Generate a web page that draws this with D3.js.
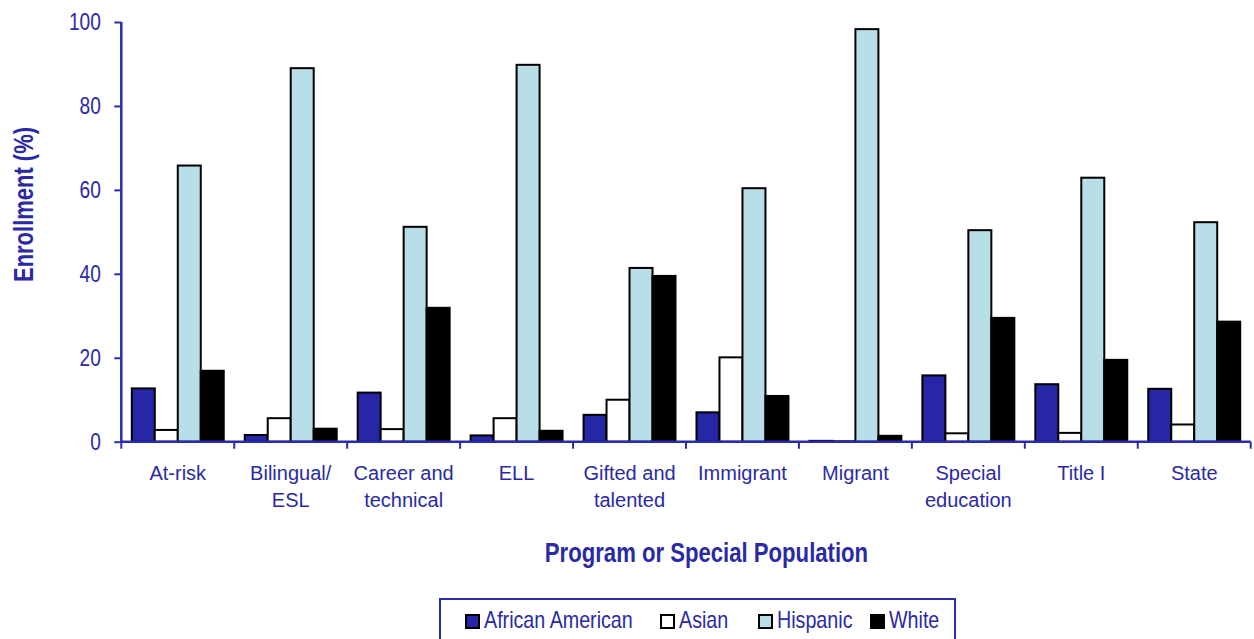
<!DOCTYPE html>
<html>
<head>
<meta charset="utf-8">
<script src="https://cdn.jsdelivr.net/npm/d3@7"></script>
<style>
  html, body { margin: 0; padding: 0; background: #fff; }
  svg text { font-family: "Liberation Sans", Arial, sans-serif; }
</style>
</head>
<body>
<svg id="chart" width="1254" height="639"></svg>
<script>
// Enrollment by program or special population, percent of students in each group
const categories = [
  "At-risk", "Bilingual/\nESL", "Career and\ntechnical", "ELL", "Gifted and\ntalented",
  "Immigrant", "Migrant", "Special\neducation", "Title I", "State"
];
const seriesNames = ["African American", "Asian", "Hispanic", "White"];
const africanAmerican = [12.7, 1.6, 11.7, 1.5, 6.4, 7.0, 0.2, 15.8, 13.7, 12.6];
const asian           = [2.8, 5.6, 3.0, 5.6, 10.0, 20.1, 0.1, 2.0, 2.1, 4.1];
const hispanic        = [65.8, 89.0, 51.2, 89.8, 41.4, 60.4, 98.3, 50.4, 62.9, 52.3];
const white           = [16.9, 3.1, 31.9, 2.6, 39.5, 10.9, 1.4, 29.5, 19.5, 28.6];
const yTicks = [0, 20, 40, 60, 80, 100];

const seriesValues = [africanAmerican, asian, hispanic, white];
const fills = ["#2626a6", "#ffffff", "#b8dee7", "#000000"];
const axisBlue = "#2b2bb0";
const textBlue = "#2a2aa6";

// Narrow the glyphs of a text selection horizontally (narrow sans look)
function condense(sel, ratio) {
  sel.each(function () {
    const w = this.getComputedTextLength();
    d3.select(this).attr("textLength", w * ratio).attr("lengthAdjust", "spacingAndGlyphs");
  });
}

const svg = d3.select("#chart");
const plot = { left: 121.3, right: 1250.7, top: 22, bottom: 441.7 };

const x = d3.scaleBand().domain(categories).range([plot.left, plot.right]).paddingInner(0).paddingOuter(0);
const x1 = d3.scaleBand().domain(seriesNames).range([0, x.bandwidth()]).paddingOuter(0.5 * 21 / 23).paddingInner(0);
const y = d3.scaleLinear().domain([0, 100]).range([plot.bottom, plot.top]);

// Bars
const groups = svg.append("g").selectAll("g")
  .data(categories)
  .join("g")
  .attr("transform", d => `translate(${x(d)},0)`);

groups.selectAll("rect")
  .data((c, i) => seriesNames.map((s, j) => ({ s, j, v: seriesValues[j][i] })))
  .join("rect")
  .attr("x", d => x1(d.s))
  .attr("width", x1.bandwidth())
  .attr("y", d => y(d.v))
  .attr("height", d => y(0) - y(d.v))
  .attr("fill", d => fills[d.j])
  .attr("stroke", "#000")
  .attr("stroke-width", 2);

// Y axis
const yAxis = svg.append("g")
  .attr("transform", `translate(${plot.left},0)`)
  .call(d3.axisLeft(y).tickValues(yTicks).tickSize(7).tickPadding(13.5).tickFormat(d3.format("d")));
yAxis.select(".domain").attr("stroke", axisBlue).attr("stroke-width", 2.5)
  .attr("d", `M0,${plot.top}V${plot.bottom}`);
yAxis.selectAll(".tick line").attr("stroke", axisBlue).attr("stroke-width", 2);
yAxis.selectAll(".tick text").attr("fill", textBlue).attr("font-size", 24.5)
  .attr("font-family", "Liberation Sans, Arial, sans-serif")
  .call(condense, 0.78);

// X axis with ticks at category boundaries
const xAxisG = svg.append("g").attr("transform", `translate(0,${plot.bottom})`);
xAxisG.append("line")
  .attr("x1", plot.left).attr("x2", plot.right)
  .attr("stroke", axisBlue).attr("stroke-width", 2.5);
const boundaries = categories.map(c => x(c)).concat([x(categories[categories.length - 1]) + x.bandwidth()]);
xAxisG.selectAll("line.tk")
  .data(boundaries)
  .join("line")
  .attr("class", "tk")
  .attr("x1", d => d).attr("x2", d => d)
  .attr("y1", 0).attr("y2", 7)
  .attr("stroke", axisBlue).attr("stroke-width", 2);

// Category labels
const labels = svg.append("g").selectAll("text")
  .data(categories)
  .join("text")
  .attr("x", d => x(d) + x.bandwidth() / 2)
  .attr("y", 479.5)
  .attr("text-anchor", "middle")
  .attr("fill", textBlue)
  .attr("font-size", 20);
labels.selectAll("tspan")
  .data(d => d.split("\n"))
  .join("tspan")
  .attr("x", function () { return d3.select(this.parentNode).attr("x"); })
  .attr("dy", (d, i) => i === 0 ? 0 : 27.5)
  .text(d => d);

// Axis titles
svg.append("text")
  .attr("x", 706.5).attr("y", 561.5)
  .attr("text-anchor", "middle")
  .attr("fill", textBlue)
  .attr("font-size", 28)
  .attr("font-weight", "bold")
  .text("Program or Special Population")
  .call(condense, 0.79);

svg.append("text")
  .attr("transform", "translate(33,204.5) rotate(-90)")
  .attr("text-anchor", "middle")
  .attr("fill", textBlue)
  .attr("font-size", 28)
  .attr("font-weight", "bold")
  .text("Enrollment (%)")
  .call(condense, 0.785);

// Legend
const legend = svg.append("g");
legend.append("rect")
  .attr("x", 440).attr("y", 599)
  .attr("width", 515).attr("height", 50)
  .attr("fill", "#fff")
  .attr("stroke", axisBlue).attr("stroke-width", 2);

const legendX = [466, 661, 759, 871];
const items = legend.selectAll("g.item")
  .data(seriesNames)
  .join("g")
  .attr("class", "item")
  .attr("transform", (d, i) => `translate(${legendX[i]},0)`);
items.append("rect")
  .attr("x", 0).attr("y", 615)
  .attr("width", 13).attr("height", 13)
  .attr("fill", (d, i) => fills[i])
  .attr("stroke", "#000").attr("stroke-width", 2);
items.append("text")
  .attr("x", 18).attr("y", 628.3)
  .attr("fill", textBlue)
  .attr("font-size", 24)
  .text(d => d)
  .call(condense, 0.82);
</script>
</body>
</html>
